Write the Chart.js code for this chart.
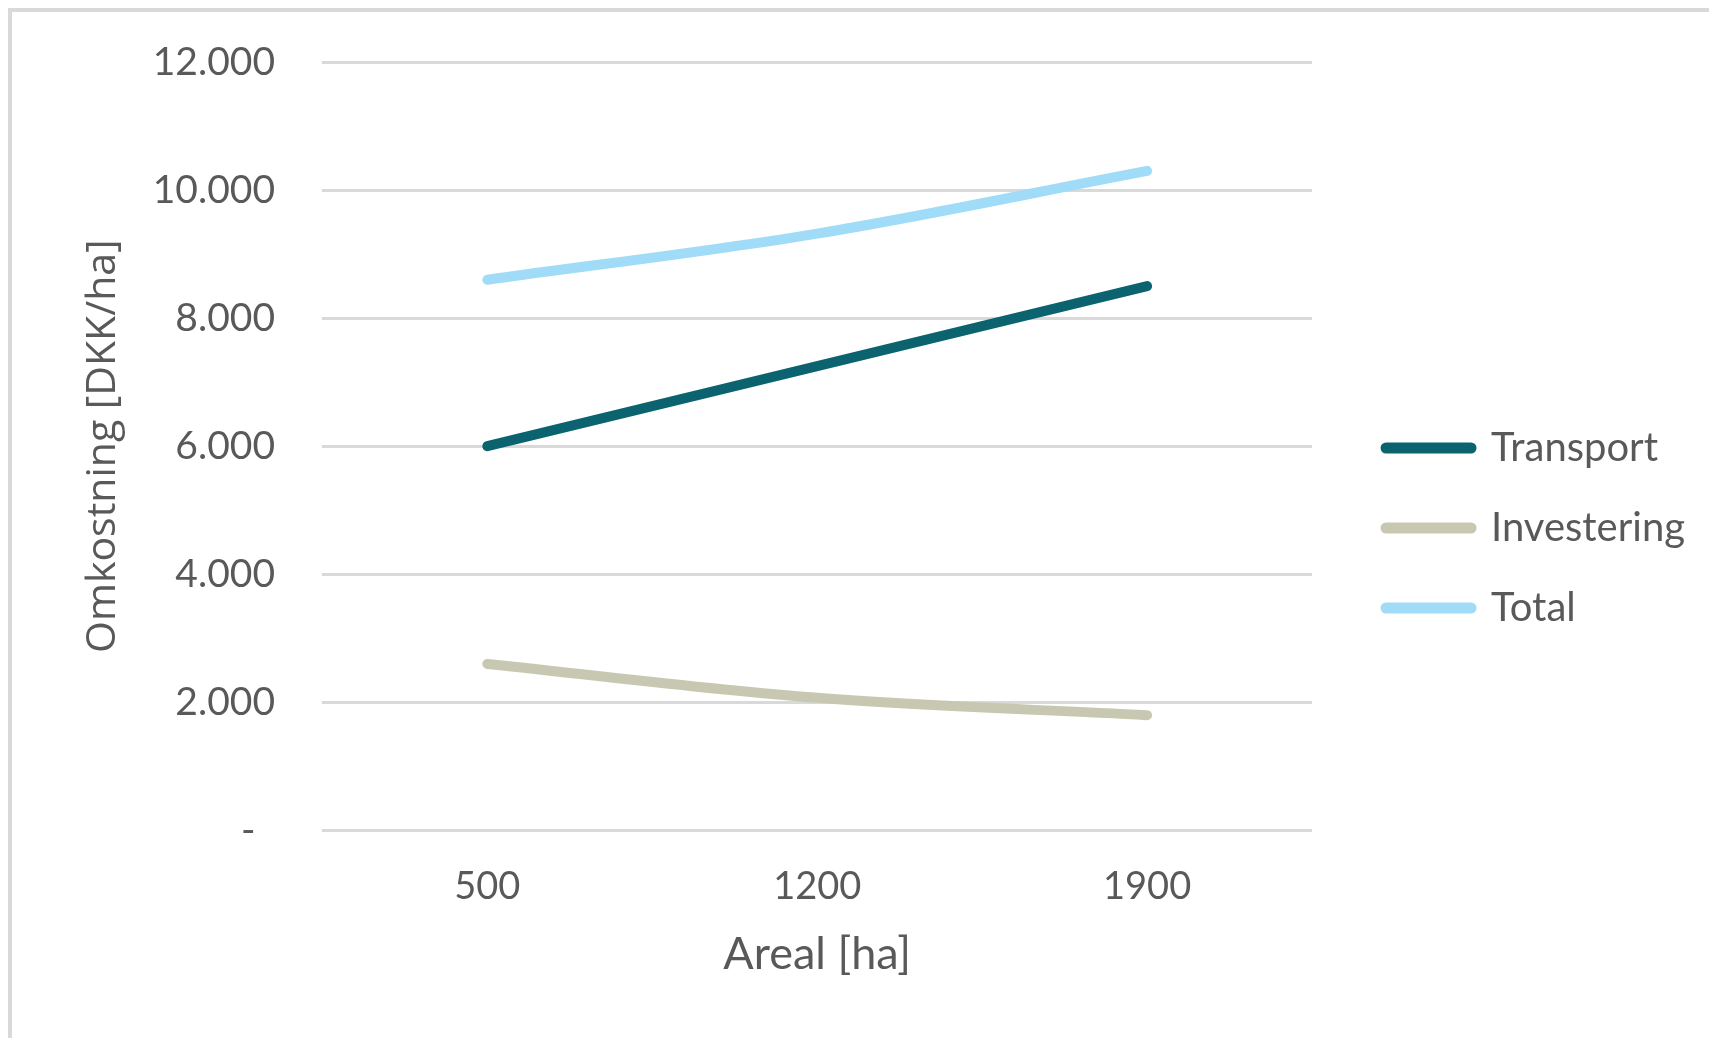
<!DOCTYPE html>
<html>
<head>
<meta charset="utf-8">
<script src="https://cdn.jsdelivr.net/npm/chart.js@4.4.1/dist/chart.umd.min.js"></script>
<style>
  html, body { margin: 0; padding: 0; background: #fff; overflow: hidden; }
  #frame { position: absolute; left: 8px; top: 8px; width: 2000px; height: 2000px; border: 4px solid #d9d9d9; }
  #wrap { position: absolute; left: 0; top: 0; width: 1709px; height: 1038px; }
</style>
</head>
<body>
<div id="frame"></div>
<div id="wrap"><canvas id="chart" width="1709" height="1038"></canvas></div>
<script>
// areal i ha
let categories = ["500", "1200", "1900"];
let transport = [6000, 7250, 8500];
let investering = [2600, 2070, 1800];
let total = [8600, 9320, 10300];

let yTicks = [0, 2000, 4000, 6000, 8000, 10000, 12000];

function formatDK(v) {
    if (v === 0) return "-\u2002\u2009";
    return String(v).replace(/\B(?=(\d{3})+(?!\d))/g, ".") + "\u2009";
}

function makeDataset(label, data, color) {
    return {
        label: label,
        data: data,
        borderColor: color,
        backgroundColor: color,
        borderWidth: 10,
        borderCapStyle: 'round',
        borderJoinStyle: 'round',
        pointRadius: 0,
        tension: 0.35,
        fill: false
    };
}

let gray = '#595959';

// skubber legenden lidt til højre, væk fra plottet
let legendShift = {
    id: 'legendShift',
    afterLayout(chart) {
        chart.legend.left += 34;
        chart.legend.right += 34;
    }
};

let config = {
    type: 'line',
    data: {
        labels: categories,
        datasets: [
            makeDataset("Transport", transport, '#0b6370'),
            makeDataset("Investering", investering, '#c8c8b2'),
            makeDataset("Total", total, '#a0dcf7')
        ]
    },
    options: {
        responsive: false,
        animation: false,
        devicePixelRatio: 1,
        layout: { padding: { left: 79, top: 52, bottom: 57, right: 48 } },
        plugins: {
            tooltip: { enabled: false },
            legend: {
                position: 'right',
                align: 'center',
                title: {
                    display: true,
                    text: ' ',
                    font: { size: 10, lineHeight: 1.2 },
                    padding: { top: 0, bottom: 11 }
                },
                labels: {
                    usePointStyle: true,
                    pointStyle: 'line',
                    pointStyleWidth: 85,
                    boxHeight: 11,
                    padding: 40,
                    color: gray,
                    font: { family: 'Lato', size: 40 },
                    generateLabels: function(chart) {
                        let items = Chart.defaults.plugins.legend.labels.generateLabels(chart);
                        items.forEach(it => {
                            it.lineWidth = 11;
                            it.lineCap = 'round';
                        });
                        return items;
                    }
                }
            }
        },
        scales: {
            x: {
                offset: true,
                grid: { display: false, drawTicks: false },
                border: { display: false },
                ticks: {
                    color: gray,
                    font: { family: 'Lato', size: 38 },
                    padding: 34,
                    maxRotation: 0
                },
                title: {
                    display: true,
                    text: 'Areal [ha]',
                    color: gray,
                    font: { family: 'Lato', size: 45 },
                    padding: { top: -17, bottom: 0 }
                }
            },
            y: {
                min: 0,
                max: 12000,
                afterBuildTicks: function(axis) {
                    axis.ticks = yTicks.map(v => ({ value: v }));
                },
                grid: { color: '#d9d9d9', lineWidth: 3, drawTicks: false },
                border: { display: false },
                ticks: {
                    color: gray,
                    font: { family: 'Lato', size: 39, lineHeight: 1 },
                    padding: 42.5,
                    callback: function(v) { return formatDK(v); }
                },
                title: {
                    display: true,
                    text: 'Omkostning [DKK/ha]',
                    color: gray,
                    font: { family: 'Open Sans', size: 41 },
                    padding: { top: 0, bottom: -18 }
                }
            }
        }
    },
    plugins: [legendShift]
};

Promise.all([
    document.fonts.load('38px Lato'),
    document.fonts.load('41px "Open Sans"')
]).catch(() => {}).then(() => {
    new Chart(document.getElementById('chart'), config);
});
</script>
</body>
</html>
